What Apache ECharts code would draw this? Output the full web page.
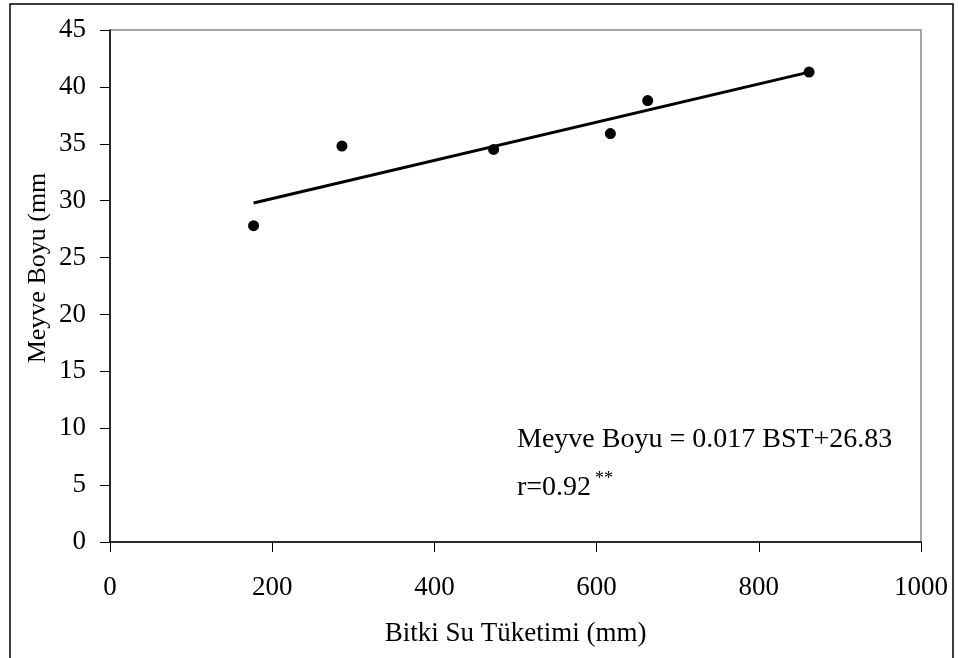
<!DOCTYPE html>
<html>
<head>
<meta charset="utf-8">
<script src="https://cdn.jsdelivr.net/npm/echarts@6/dist/echarts.min.js"></script>
<style>
html,body{margin:0;padding:0;background:#fff;}
#main{width:958px;height:658px;}
</style>
</head>
<body>
<div id="main"></div>
<script>
// Data
const bstValues = [177, 286, 473, 617, 663, 862];        // Bitki Su Tüketimi (mm)
const boyValues = [27.8, 34.8, 34.5, 35.9, 38.8, 41.3];  // Meyve Boyu (mm)
const trendX = [177, 862];
const trendY = [29.8, 41.3];
const xTicks = [0, 200, 400, 600, 800, 1000];
const yTicks = [0, 5, 10, 15, 20, 25, 30, 35, 40, 45];

const FONT = "'Liberation Serif', 'Times New Roman', serif";

const chart = echarts.init(document.getElementById('main'), null, {renderer: 'canvas'});
chart.setOption({
  backgroundColor: '#fff',
  animation: false,
  grid: {left: 110, top: 30, right: 37, bottom: 116, show: true, borderColor: '#888', borderWidth: 1.5, backgroundColor: 'transparent'},
  xAxis: {
    type: 'value', min: xTicks[0], max: xTicks[xTicks.length - 1], interval: xTicks[1] - xTicks[0],
    name: 'Bitki Su Tüketimi (mm)', nameLocation: 'middle', nameGap: 78,
    nameTextStyle: {fontFamily: FONT, fontSize: 27, color: '#000'},
    axisLine: {show: true, lineStyle: {color: '#000', width: 1.5}},
    axisTick: {show: true, inside: false, length: 10, lineStyle: {color: '#000', width: 1}},
    axisLabel: {fontFamily: FONT, fontSize: 27, color: '#000', margin: 32, formatter: v => String(v), showMaxLabel: true, showMinLabel: true},
    splitLine: {show: false}
  },
  yAxis: {
    type: 'value', min: yTicks[0], max: yTicks[yTicks.length - 1], interval: yTicks[1] - yTicks[0],
    axisLine: {show: true, lineStyle: {color: '#000', width: 1.5}},
    axisTick: {show: true, inside: false, length: 10, lineStyle: {color: '#000', width: 1}},
    axisLabel: {fontFamily: FONT, fontSize: 27, color: '#000', margin: 24, formatter: v => String(v)},
    splitLine: {show: false}
  },
  series: [
    {
      type: 'line',
      data: trendX.map((x, i) => [x, trendY[i]]),
      symbol: 'none',
      lineStyle: {color: '#000', width: 3},
      z: 2
    },
    {
      type: 'scatter',
      data: bstValues.map((x, i) => [x, boyValues[i]]),
      symbol: 'circle', symbolSize: 11,
      itemStyle: {color: '#000', opacity: 1},
      z: 3
    }
  ],
  graphic: [
    {type: 'rect', shape: {x: 10, y: 4, width: 943, height: 700}, style: {fill: 'none', stroke: '#000', lineWidth: 1.5}, silent: true},
    {type: 'text', x: 38, y: 268, rotation: Math.PI / 2, style: {text: 'Meyve Boyu (mm', font: '26px ' + FONT, fill: '#000', verticalAlign: 'middle', align: 'center'}},
    {type: 'text', x: 517, y: 440, style: {text: 'Meyve Boyu = 0.017 BST+26.83', font: '28px ' + FONT, fill: '#000', verticalAlign: 'middle', align: 'left'}},
    {type: 'text', x: 517, y: 488, style: {text: 'r=0.92', font: '28px ' + FONT, fill: '#000', verticalAlign: 'middle', align: 'left'}},
    {type: 'text', x: 595, y: 479, style: {text: '**', font: '18px ' + FONT, fill: '#000', verticalAlign: 'middle', align: 'left'}}
  ]
});
</script>
</body>
</html>
